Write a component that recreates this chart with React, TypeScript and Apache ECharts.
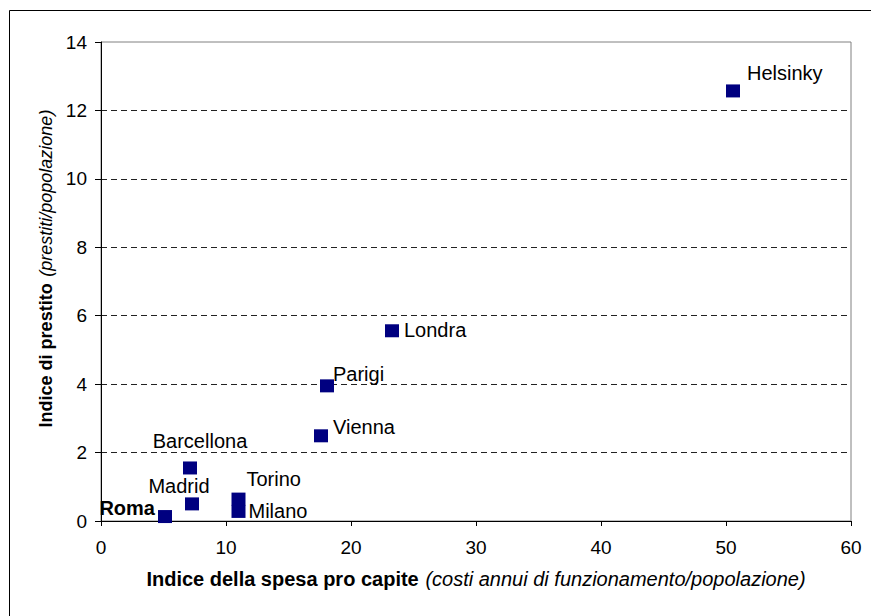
import React, { useEffect, useRef } from "react";
import * as echarts from "echarts";

const cities = ["Helsinky", "Londra", "Parigi", "Vienna", "Barcellona", "Madrid", "Roma", "Torino", "Milano"];
const spesaProCapite = [50.56, 23.28, 18.08, 17.6, 7.12, 7.28, 5.12, 11.0, 11.0];
const indicePrestito = [12.57, 5.56, 3.95, 2.49, 1.55, 0.5, 0.13, 0.64, 0.28];

const xTicks = { min: 0, max: 60, interval: 10 };
const yTicks = { min: 0, max: 14, interval: 2 };

// label placement (style only): anchor offset from marker centre
const labelLayout: Record<string, { align: string; dx: number; dy: number; bold?: boolean }> = {
  Helsinky: { align: "left", dx: 14, dy: -18 },
  Londra: { align: "left", dx: 12, dy: -1 },
  Parigi: { align: "left", dx: 6, dy: -12 },
  Vienna: { align: "left", dx: 12, dy: -9 },
  Barcellona: { align: "center", dx: 10, dy: -27 },
  Madrid: { align: "center", dx: -13, dy: -18 },
  Roma: { align: "right", dx: -10, dy: -9, bold: true },
  Torino: { align: "left", dx: 8, dy: -20 },
  Milano: { align: "left", dx: 10, dy: 0 },
};

const FONT = "Liberation Sans, Arial, sans-serif";

export default function App() {
  const ref = useRef<HTMLDivElement>(null);
  useEffect(() => {
    if (!ref.current) return;
    const chart = echarts.init(ref.current, undefined, { renderer: "svg" });
    const data = cities.map((c, i) => {
      const l = labelLayout[c];
      return {
        name: c,
        value: [spesaProCapite[i], indicePrestito[i]],
        label: {
          show: true,
          formatter: c,
          position: "inside",
          align: l.align,
          verticalAlign: "middle",
          offset: [l.dx, l.dy],
          color: "#000",
          fontFamily: FONT,
          fontSize: 20,
          fontWeight: l.bold ? "bold" : "normal",
        },
      };
    });
    chart.setOption({
      animation: false,
      backgroundColor: "#fff",
      textStyle: { fontFamily: FONT },
      graphic: [
        {
          type: "rect",
          shape: { x: 9.5, y: 10.5, width: 900, height: 700 },
          style: { fill: "none", stroke: "#000", lineWidth: 1 },
          z: 100,
          silent: true,
        },
      ],
      grid: {
        left: 101,
        top: 42,
        right: 20,
        bottom: 95,
        show: true,
        borderColor: "#808080",
        borderWidth: 1,
        backgroundColor: "transparent",
      },
      xAxis: {
        type: "value",
        min: xTicks.min,
        max: xTicks.max,
        interval: xTicks.interval,
        splitLine: { show: false },
        axisLine: { show: true, onZero: false, lineStyle: { color: "#000", width: 1 } },
        axisTick: { show: true, length: 5, lineStyle: { color: "#000" } },
        axisLabel: { color: "#000", fontSize: 19, fontFamily: FONT, margin: 17 },
        name: "{b|Indice della spesa pro capite}  {i|(costi annui di funzionamento/popolazione)}",
        nameLocation: "middle",
        nameGap: 48,
        nameTextStyle: {
          rich: {
            b: { fontWeight: "bold", fontSize: 20, color: "#000", fontFamily: FONT },
            i: { fontStyle: "italic", fontSize: 20, color: "#000", fontFamily: FONT },
          },
        },
      },
      yAxis: {
        type: "value",
        min: yTicks.min,
        max: yTicks.max,
        interval: yTicks.interval,
        splitLine: {
          show: true,
          showMinLine: false,
          showMaxLine: false,
          lineStyle: { color: "#222", type: [6, 4], width: 1 },
        },
        axisLine: { show: true, onZero: false, lineStyle: { color: "#000", width: 1 } },
        axisTick: { show: true, length: 6, lineStyle: { color: "#000" } },
        axisLabel: { color: "#000", fontSize: 19, fontFamily: FONT, margin: 14 },
        name: "{b|Indice di prestito}  {i|(prestiti/popolazione)}",
        nameLocation: "middle",
        nameGap: 46,
        nameRotate: 90,
        nameTextStyle: {
          padding: [0, 0, 0, 26],
          rich: {
            b: { fontWeight: "bold", fontSize: 18, color: "#000", fontFamily: FONT },
            i: { fontStyle: "italic", fontSize: 18, color: "#000", fontFamily: FONT },
          },
        },
      },
      series: [
        {
          type: "scatter",
          symbol: "rect",
          symbolSize: [14, 13],
          itemStyle: { color: "#000080", opacity: 1 },
          data,
        },
      ],
    });
    return () => chart.dispose();
  }, []);
  return <div ref={ref} style={{ position: "fixed", left: 0, top: 0, width: 871, height: 616 }} />;
}
